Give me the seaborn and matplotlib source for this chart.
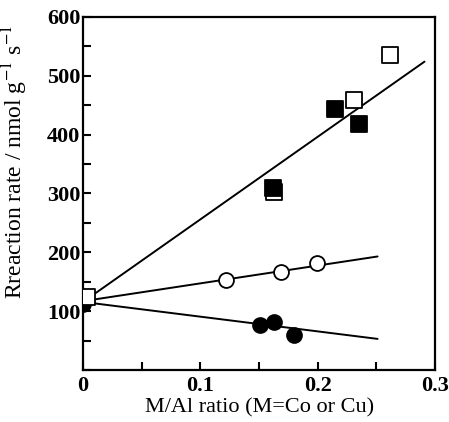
"""
Reaction rate vs M/Al ratio (M = Co or Cu).
"""

import matplotlib
matplotlib.use("Agg")
import matplotlib.pyplot as plt
from matplotlib.ticker import MultipleLocator
import seaborn as sns

# Data
open_sq_x = [0.003, 0.163, 0.231, 0.262]
open_sq_y = [125, 303, 459, 535]
fill_sq_x = [0.162, 0.215, 0.235]
fill_sq_y = [310, 444, 418]
open_ci_x = [0.122, 0.169, 0.199]
open_ci_y = [153, 167, 182]
fill_ci_x = [0.0, 0.151, 0.163, 0.180]
fill_ci_y = [112, 76, 82, 60]

# fitted lines (end points)
fit_sq_x = [0.003, 0.291]
fit_sq_y = [120, 524]
fit_oc_x = [0.003, 0.251]
fit_oc_y = [118, 193]
fit_fc_x = [0.003, 0.251]
fit_fc_y = [115, 53]

x_ticks = [0, 0.1, 0.2, 0.3]
x_labels = ['0', '0.1', '0.2', '0.3']
y_ticks = [100, 200, 300, 400, 500, 600]
y_labels = ['100', '200', '300', '400', '500', '600']

sns.set_theme(style="ticks")
plt.rcParams['font.family'] = ['Liberation Serif', 'DejaVu Serif']
plt.rcParams['mathtext.fontset'] = 'stix'

fig = plt.figure(figsize=(4.49, 4.22), dpi=100)
ax = fig.add_axes([0.185, 0.123, 0.784, 0.837])

# Lines
for lx, ly in [(fit_sq_x, fit_sq_y), (fit_oc_x, fit_oc_y), (fit_fc_x, fit_fc_y)]:
    sns.lineplot(x=lx, y=ly, ax=ax, color='black', linewidth=1.4, zorder=1)

# Markers
sns.scatterplot(x=fill_ci_x, y=fill_ci_y, ax=ax, marker='o', s=115,
                color='black', edgecolor='black', linewidth=1.3, zorder=3)
sns.scatterplot(x=open_ci_x, y=open_ci_y, ax=ax, marker='o', s=115,
                facecolor='white', edgecolor='black', linewidth=1.3, zorder=3)
sns.scatterplot(x=open_sq_x, y=open_sq_y, ax=ax, marker='s', s=120,
                facecolor='white', edgecolor='black', linewidth=1.3, zorder=4)
sns.scatterplot(x=fill_sq_x, y=fill_sq_y, ax=ax, marker='s', s=120,
                color='black', edgecolor='black', linewidth=1.3, zorder=5)

ax.set_xlim(0, 0.3)
ax.set_ylim(0, 600)
ax.set_xticks(x_ticks)
ax.set_xticklabels(x_labels)
ax.set_yticks(y_ticks)
ax.set_yticklabels(y_labels)
ax.xaxis.set_minor_locator(MultipleLocator(0.05))
ax.yaxis.set_minor_locator(MultipleLocator(50))

ax.tick_params(which='both', direction='in', top=False, right=False,
               width=1.5, labelsize=16, colors='black')
ax.tick_params(axis='y', which='major', length=6, pad=2)
ax.tick_params(axis='x', which='major', length=6, pad=4)
ax.tick_params(which='minor', length=6)
for lab in ax.get_xticklabels() + ax.get_yticklabels():
    lab.set_fontweight('bold')
for sp in ax.spines.values():
    sp.set_linewidth(1.6)
    sp.set_color('black')

ax.set_xlabel('M/Al ratio (M=Co or Cu)', fontsize=16, color='black', labelpad=2)
ax.set_ylabel(r'Rreaction rate / nmol g$^{-1}$ s$^{-1}$', fontsize=17,
              color='black')
ax.yaxis.set_label_coords(-0.15, 0.59)

fig.savefig('out.png', dpi=100)
plt.close(fig)
